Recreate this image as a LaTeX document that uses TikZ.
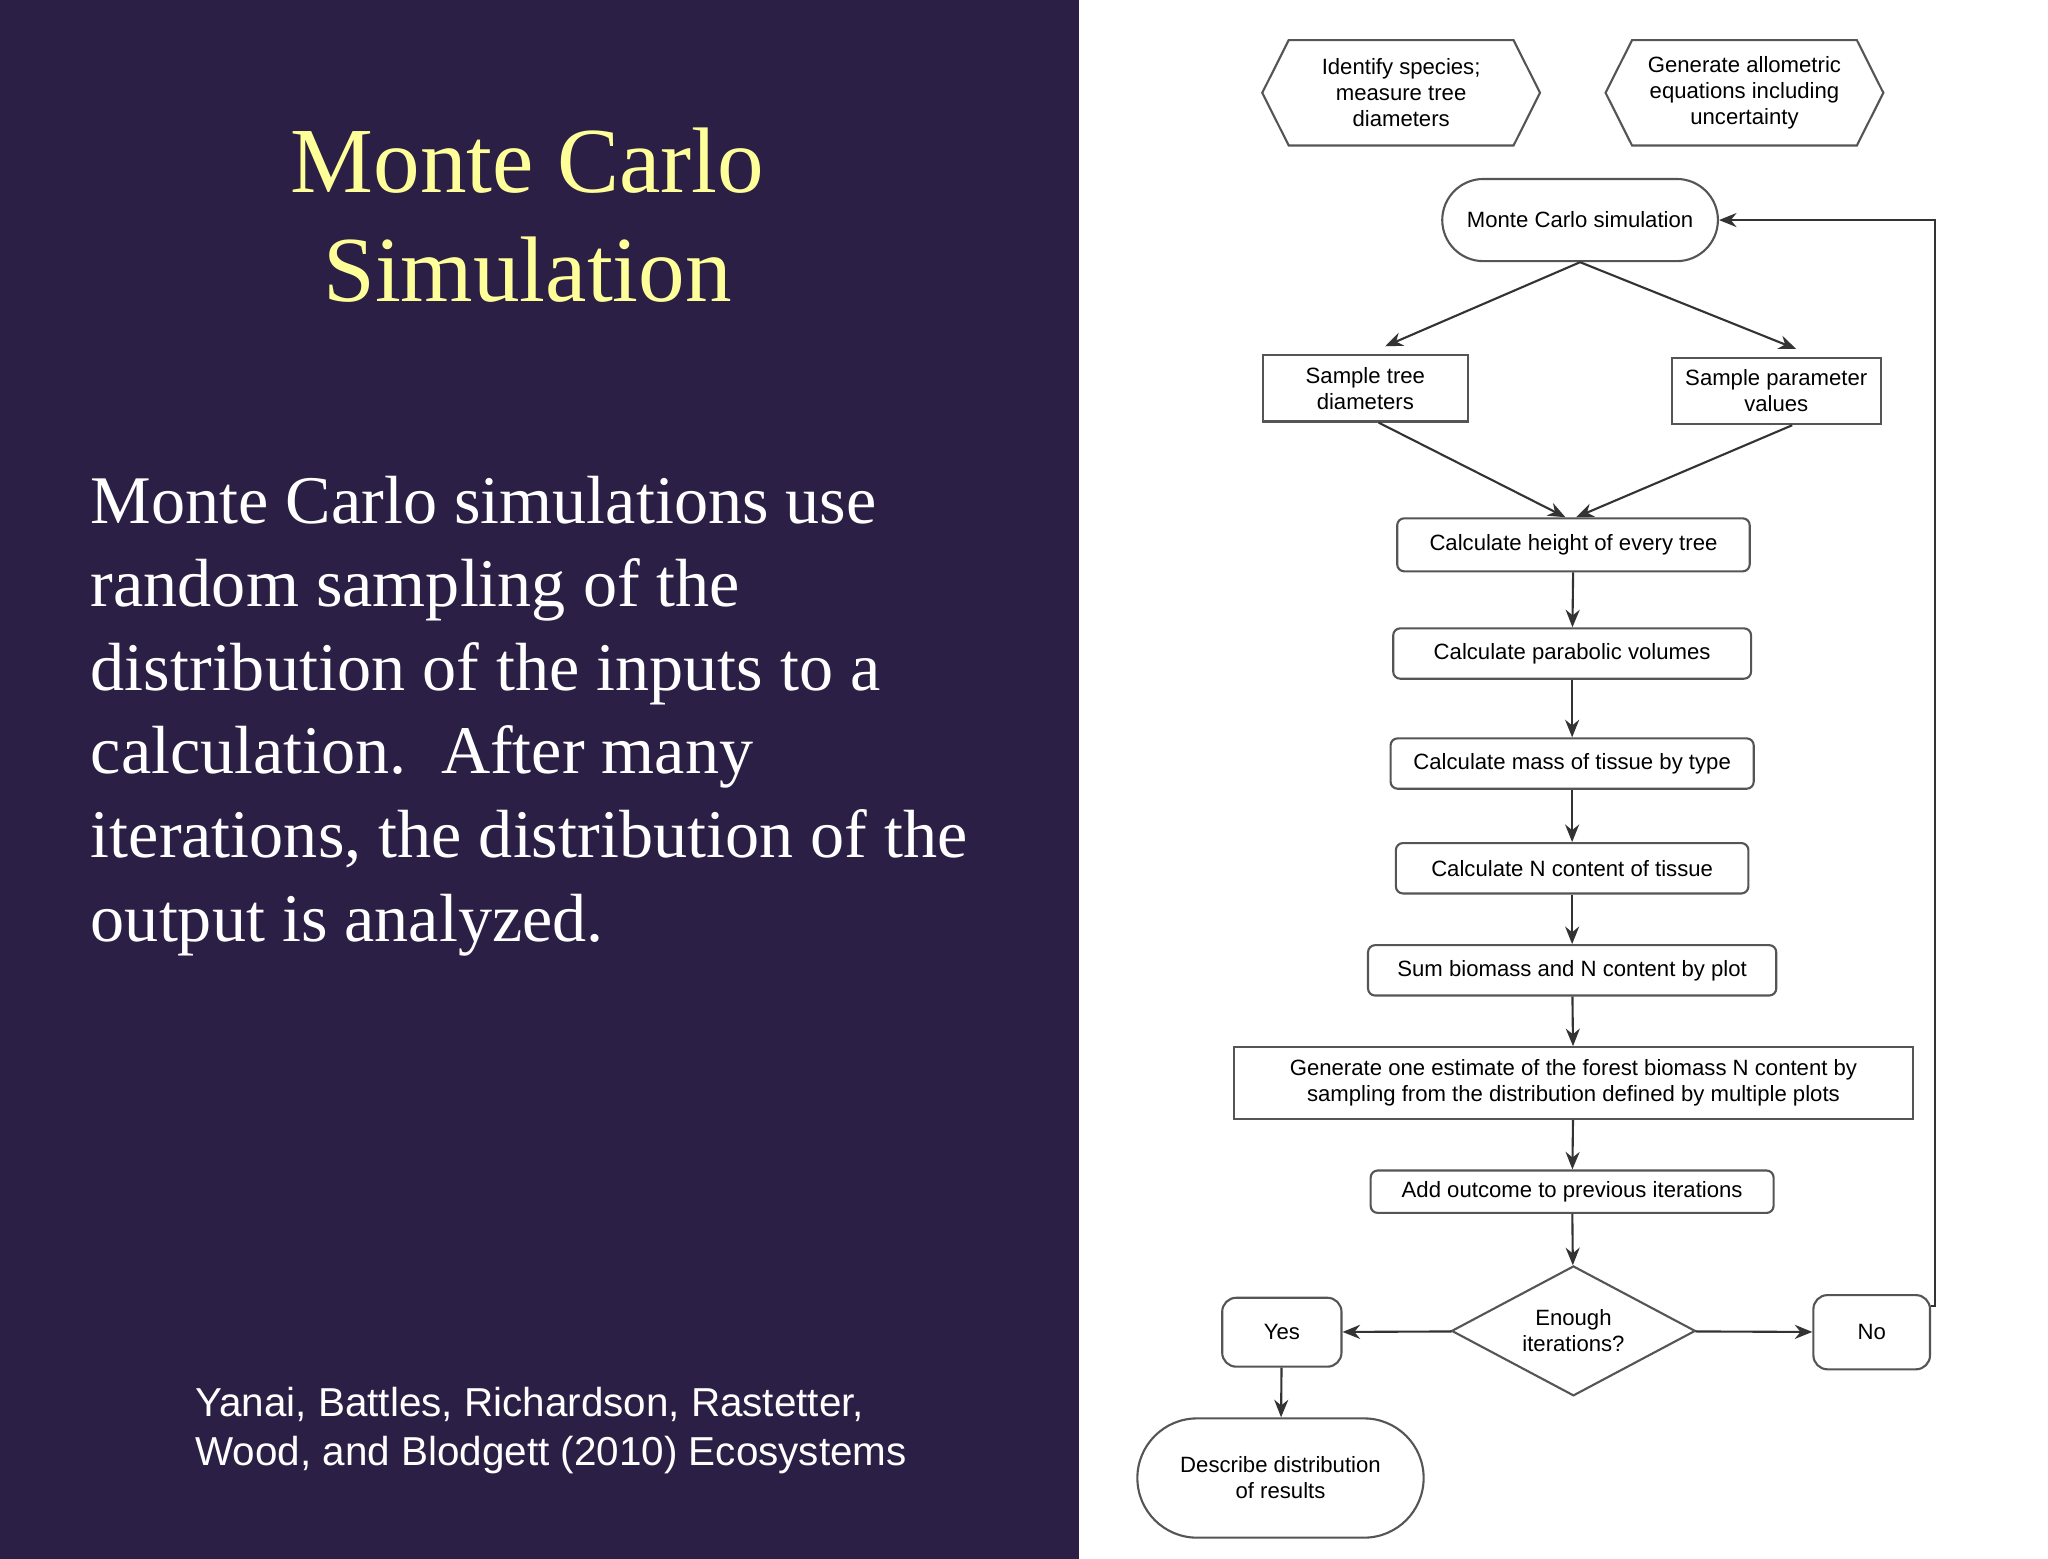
\documentclass[tikz,border=0pt]{standalone}
\usepackage{fontspec}
\setmainfont{Liberation Serif}
\newfontfamily\fsans{Liberation Sans}
\usetikzlibrary{shapes.geometric,shapes.misc,arrows.meta}
\definecolor{bgpurple}{HTML}{2C1F45}
\definecolor{titley}{HTML}{FFFF99}
\definecolor{boxline}{HTML}{555555}
\newcommand{\uu}{*0.3772pt}
\tikzset{
  fc/.style={draw=boxline,line width=0.6pt,fill=white,font=\fsans\fontsize{6.3}{7.4}\selectfont,align=center,inner sep=0pt},
  rbox/.style={fc,rounded corners=2pt},
  sbox/.style={fc},
  arr/.style={-{Stealth[length=5pt,width=4pt]},line width=0.6pt,draw=black!80},
}
\begin{document}
\begin{tikzpicture}[x=0.013256cm,y=0.013256cm]
\useasboundingbox (0,0) rectangle (1545,-1176);
\fill[bgpurple] (0,0) rectangle (814,-1176);
\fill[white] (814,0) rectangle (1545,-1176);
\node (title) at (398,-162) [text=titley,align=center,font=\fontsize{26.5}{31}\selectfont] {Monte Carlo\\Simulation};
\node (body) at (68,-540) [anchor=west,inner sep=0pt,text=white,align=left,font=\fontsize{19.4}{23.8}\selectfont] {Monte Carlo simulations use\\random sampling of the\\distribution of the inputs to a\\calculation.\ \ After many\\iterations, the distribution of the\\output is analyzed.};
\node (cite) at (147,-1079) [anchor=west,inner sep=0pt,text=white,align=left,font=\fsans\fontsize{11.5}{14}\selectfont] {Yanai, Battles, Richardson, Rastetter,\\Wood, and Blodgett (2010) Ecosystems};
% hexagons
\node (h1) at (1057,-70) [fc,draw=none,minimum width=208\uu,minimum height=78\uu] {Identify species;\\measure tree\\diameters};
\draw[boxline,line width=0.6pt] (h1.west) -- ([xshift=20\uu]h1.north west) -- ([xshift=-20\uu]h1.north east) -- (h1.east) -- ([xshift=-20\uu]h1.south east) -- ([xshift=20\uu]h1.south west) -- cycle;
\node (h2) at (1316,-70) [fc,draw=none,minimum width=208\uu,minimum height=78\uu] {Generate allometric\\equations including\\uncertainty};
\draw[boxline,line width=0.6pt] (h2.west) -- ([xshift=20\uu]h2.north west) -- ([xshift=-20\uu]h2.north east) -- (h2.east) -- ([xshift=-20\uu]h2.south east) -- ([xshift=20\uu]h2.south west) -- cycle;
\node (mc) at (1192,-166) [fc,rounded rectangle,minimum width=208\uu,minimum height=62\uu] {Monte Carlo simulation};
\node (st) at (1030,-293) [sbox,minimum width=155\uu,minimum height=50\uu] {Sample tree\\diameters};
\node (sp) at (1340,-295) [sbox,minimum width=158\uu,minimum height=50\uu] {Sample parameter\\values};
\node (c1) at (1187,-411) [rbox,minimum width=266\uu,minimum height=40\uu] {Calculate height of every tree};
\node (c2) at (1186,-493) [rbox,minimum width=270\uu,minimum height=38\uu] {Calculate parabolic volumes};
\node (c3) at (1186,-576) [rbox,minimum width=274\uu,minimum height=38\uu] {Calculate mass of tissue by type};
\node (c4) at (1186,-655) [rbox,minimum width=266\uu,minimum height=38\uu] {Calculate N content of tissue};
\node (c5) at (1186,-732) [rbox,minimum width=308\uu,minimum height=38\uu] {Sum biomass and N content by plot};
\node (c6) at (1187,-817) [sbox,minimum width=512\uu,minimum height=54\uu] {Generate one estimate of the forest biomass N content by\\sampling from the distribution defined by multiple plots};
\node (c7) at (1186,-899) [rbox,minimum width=304\uu,minimum height=32\uu] {Add outcome to previous iterations};
\node (dm) at (1187,-1004) [fc,diamond,aspect=1.9,minimum width=184\uu,minimum height=98\uu] {Enough\\iterations?};
\node (yes) at (967,-1005) [rbox,rounded corners=4pt,minimum width=90\uu,minimum height=52\uu] {Yes};
\node (no) at (1412,-1005) [rbox,rounded corners=4pt,minimum width=88\uu,minimum height=56\uu] {No};
\node (ds) at (966,-1115) [fc,rounded rectangle,minimum width=216\uu,minimum height=90\uu] {Describe distribution\\of results};
\coordinate (loop) at (1460,-166);
\draw[arr] (mc.south) -- ([xshift=15\uu,yshift=6\uu]st.north);
\draw[arr] (mc.south) -- ([xshift=15\uu,yshift=6\uu]sp.north);
\draw[arr] ([xshift=10\uu]st.south) -- ([xshift=-6\uu]c1.north);
\draw[arr] ([xshift=12\uu]sp.south) -- ([xshift=2\uu]c1.north);
\draw[arr] (c1) -- (c2);
\draw[arr] (c2) -- (c3);
\draw[arr] (c3) -- (c4);
\draw[arr] (c4) -- (c5);
\draw[arr] (c5) -- (c6);
\draw[arr] (c6) -- (c7);
\draw[arr] (c7) -- (dm);
\draw[arr] (dm) -- (yes);
\draw[arr] (dm) -- (no);
\draw[arr] (yes) -- (ds);
\draw[arr] ([yshift=20\uu]no.east) -| (loop) -- (mc.east);
\end{tikzpicture}
\end{document}
